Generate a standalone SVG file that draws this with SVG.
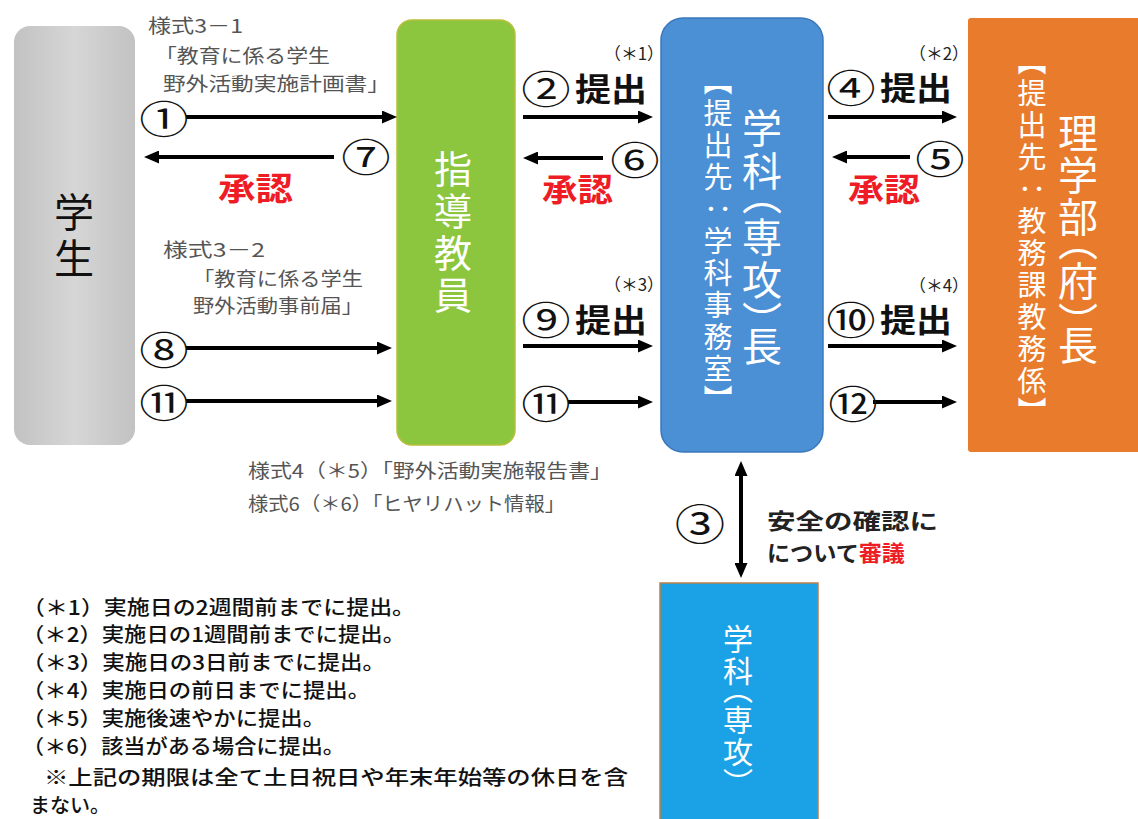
<svg xmlns="http://www.w3.org/2000/svg" width="1138" height="819" viewBox="0 0 1138 819">
<style>
text{font-family:"Noto Sans CJK JP","Noto Sans",sans-serif;dominant-baseline:central}
.v{writing-mode:vertical-rl;text-anchor:middle;fill:#fff}
.p{font-feature-settings:"vpal"}
.lbl{font-size:19px;fill:#555}
.num{font-size:38px;fill:#111;text-anchor:middle}
.sub{font-size:32px;font-weight:700;fill:#111}
.ok{font-size:32px;font-weight:700;fill:#ee1c25}
.star{font-size:17px;fill:#222}
.note{font-size:20px;font-weight:500;fill:#111}
.arr{stroke:#000;stroke-width:4;fill:none;marker-end:url(#ah)}
</style>
<defs>
<marker id="ah" markerWidth="15" markerHeight="13" refX="7" refY="6.5" orient="auto-start-reverse" markerUnits="userSpaceOnUse"><path d="M0,0 L15,6.5 L0,13 z" fill="#000"/></marker>
<linearGradient id="gg" x1="0" y1="0" x2="1" y2="0"><stop offset="0" stop-color="#c2c2c2"/><stop offset="0.5" stop-color="#d6d6d6"/><stop offset="1" stop-color="#c2c2c2"/></linearGradient>
</defs>
<rect width="1138" height="819" fill="#fff"/>

<g id="student">
<rect x="14" y="26" width="121" height="419" rx="16" fill="url(#gg)"/>
<text class="v" x="74" y="238" style="font-size:40px;letter-spacing:6px;fill:#111">学生</text>
</g>
<g id="advisor">
<rect x="397" y="20" width="118" height="425" rx="15" fill="#8cc63f" stroke="#b7bf3a" stroke-width="1.5"/>
<text class="v" x="453" y="234" style="font-size:38px;letter-spacing:4px">指導教員</text>
</g>
<g id="dept-head">
<rect x="661" y="18" width="162" height="434" rx="22" fill="#4b8fd5" stroke="#3b78bb" stroke-width="1.5"/>
<text class="v" x="762" y="238" style="font-size:40px;letter-spacing:3px">学科<tspan class="p">（</tspan>専攻<tspan class="p">）</tspan>長</text>
<text class="v" x="718" y="242" style="font-size:29px;letter-spacing:3px"><tspan class="p">【</tspan>提出先：学科事務室<tspan class="p">】</tspan></text>
</g>
<g id="faculty-head">
<rect x="968" y="18" width="172" height="434" rx="3" fill="#e97b2c"/>
<text class="v" x="1078" y="240" style="font-size:40px;letter-spacing:2px">理学部<tspan class="p">（</tspan>府<tspan class="p">）</tspan>長</text>
<text class="v" x="1032" y="238" style="font-size:29px;letter-spacing:3px"><tspan class="p">【</tspan>提出先：教務課教務係<tspan class="p">】</tspan></text>
</g>
<g id="dept">
<rect x="660" y="583" width="158" height="240" fill="#1ba2e6" stroke="#b9804a" stroke-width="1.5"/>
<text class="v" x="738" y="705" style="font-size:30px;letter-spacing:2px">学科<tspan class="p">（</tspan>専攻<tspan class="p">）</tspan></text>
</g>

<g id="connectors">
<path class="arr" d="M186,117 H389"/>
<path class="arr" d="M334,157 H152"/>
<path class="arr" d="M186,348 H384"/>
<path class="arr" d="M186,401 H384"/>
<path class="arr" d="M523,117 H645"/>
<path class="arr" d="M603,158 H531"/>
<path class="arr" d="M523,346 H645"/>
<path class="arr" d="M568,402 H645"/>
<path class="arr" d="M828,117 H949"/>
<path class="arr" d="M910,157 H840"/>
<path class="arr" d="M828,346 H949"/>
<path class="arr" d="M873,402 H949"/>
<path class="arr" d="M741,469 V570" style="marker-start:url(#ah)"/>
</g>

<g id="labels">
<text class="lbl" x="148" y="24" textLength="95" lengthAdjust="spacingAndGlyphs">様式3－1</text>
<text class="lbl" x="155" y="54" textLength="175" lengthAdjust="spacingAndGlyphs">「教育に係る学生</text>
<text class="lbl" x="163" y="82" textLength="227" lengthAdjust="spacingAndGlyphs">野外活動実施計画書」</text>
<text class="num" transform="translate(164 117) scale(1.3 1)">①</text>
<text class="num" transform="translate(366 155) scale(1.3 1)">⑦</text>
<text class="ok" x="218" y="186" textLength="75" lengthAdjust="spacingAndGlyphs">承認</text>
<text class="lbl" x="163" y="248" textLength="102" lengthAdjust="spacingAndGlyphs">様式3－2</text>
<text class="lbl" x="193" y="277" textLength="170" lengthAdjust="spacingAndGlyphs">「教育に係る学生</text>
<text class="lbl" x="193" y="304" textLength="170" lengthAdjust="spacingAndGlyphs">野外活動事前届」</text>
<text class="num" transform="translate(164 348) scale(1.3 1)">⑧</text>
<text class="num" transform="translate(164 401) scale(1.3 1)">⑪</text>

<text class="star" x="604" y="52" textLength="60" lengthAdjust="spacingAndGlyphs">（＊1）</text>
<text class="num" transform="translate(546 87) scale(1.3 1)">②</text>
<text class="sub" x="575" y="87" textLength="72" lengthAdjust="spacingAndGlyphs">提出</text>
<text class="num" transform="translate(635 158) scale(1.3 1)">⑥</text>
<text class="ok" x="542" y="187" textLength="71" lengthAdjust="spacingAndGlyphs">承認</text>
<text class="star" x="604" y="283" textLength="60" lengthAdjust="spacingAndGlyphs">（＊3）</text>
<text class="num" transform="translate(546 318) scale(1.3 1)">⑨</text>
<text class="sub" x="575" y="318" textLength="72" lengthAdjust="spacingAndGlyphs">提出</text>
<text class="num" transform="translate(546 402) scale(1.3 1)">⑪</text>

<text class="star" x="909" y="52" textLength="60" lengthAdjust="spacingAndGlyphs">（＊2）</text>
<text class="num" transform="translate(851 86) scale(1.3 1)">④</text>
<text class="sub" x="880" y="86" textLength="72" lengthAdjust="spacingAndGlyphs">提出</text>
<text class="num" transform="translate(940 157) scale(1.3 1)">⑤</text>
<text class="ok" x="848" y="187" textLength="72" lengthAdjust="spacingAndGlyphs">承認</text>
<text class="star" x="909" y="284" textLength="60" lengthAdjust="spacingAndGlyphs">（＊4）</text>
<text class="num" transform="translate(851 318) scale(1.3 1)">⑩</text>
<text class="sub" x="880" y="318" textLength="72" lengthAdjust="spacingAndGlyphs">提出</text>
<text class="num" transform="translate(853 402) scale(1.3 1)">⑫</text>

<text class="lbl" x="248" y="469" textLength="364" lengthAdjust="spacingAndGlyphs">様式4（＊5）「野外活動実施報告書」</text>
<text class="lbl" x="248" y="502" textLength="317" lengthAdjust="spacingAndGlyphs">様式6（＊6）「ヒヤリハット情報」</text>

<text class="num" transform="translate(700 521) scale(1.2 1)" style="font-size:42px">③</text>
<text x="767" y="519" style="font-size:22px;font-weight:700;fill:#222" textLength="171" lengthAdjust="spacingAndGlyphs">安全の確認に</text>
<text x="767" y="551" style="font-size:22px;font-weight:700;fill:#222" textLength="138" lengthAdjust="spacingAndGlyphs">について<tspan fill="#ee1c25">審議</tspan></text>

<text class="note" x="22" y="606" textLength="393" lengthAdjust="spacingAndGlyphs">（＊1）実施日の2週間前までに提出。</text>
<text class="note" x="22" y="633" textLength="383" lengthAdjust="spacingAndGlyphs">（＊2）実施日の1週間前までに提出。</text>
<text class="note" x="22" y="661" textLength="363" lengthAdjust="spacingAndGlyphs">（＊3）実施日の3日前までに提出。</text>
<text class="note" x="22" y="689" textLength="348" lengthAdjust="spacingAndGlyphs">（＊4）実施日の前日までに提出。</text>
<text class="note" x="22" y="717" textLength="303" lengthAdjust="spacingAndGlyphs">（＊5）実施後速やかに提出。</text>
<text class="note" x="22" y="745" textLength="323" lengthAdjust="spacingAndGlyphs">（＊6）該当がある場合に提出。</text>
<text class="note" x="44" y="776" textLength="584" lengthAdjust="spacingAndGlyphs">※上記の期限は全て土日祝日や年末年始等の休日を含</text>
<text class="note" x="30" y="804" textLength="80" lengthAdjust="spacingAndGlyphs">まない。</text>
</g>
</svg>
